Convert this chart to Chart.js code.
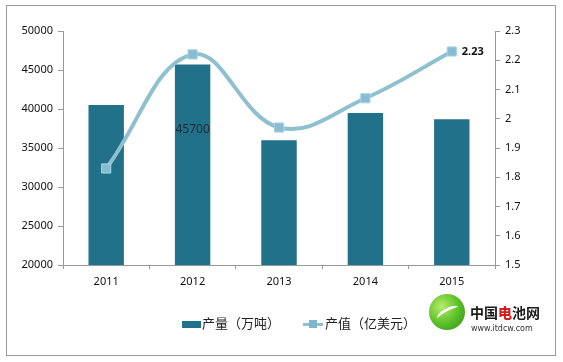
<!DOCTYPE html>
<html>
<head>
<meta charset="utf-8">
<script src="https://cdn.jsdelivr.net/npm/chart.js@4.4.0/dist/chart.umd.min.js"></script>
<style>
    body { margin: 0; background: #fff; }
    #wrap { position: relative; width: 563px; height: 362px; }
    #frame { position: absolute; left: 6px; top: 5px; width: 548px; height: 349px; border: 1px solid #9a9a9a; box-sizing: content-box; }
    #legend { position: absolute; top: 311px; left: 182px; font-family: "Noto Sans CJK SC", sans-serif; font-size: 13px; color: #222; }
    #legend span.item { display: inline-block; margin-right: 20px; vertical-align: middle; }
    .barkey { display: inline-block; width: 19px; height: 7px; background: #22718a; vertical-align: middle; margin-right: 1px; }
    .linekey { display: inline-block; position: relative; width: 20px; height: 10px; vertical-align: middle; margin-right: 2px; }
    .linekey:before { content: ""; position: absolute; left: 0; right: 0; top: 4px; height: 3px; background: #8fc0d0; }
    .linekey:after { content: ""; position: absolute; left: 6px; top: 1px; width: 8px; height: 8px; background: #7db7cc; }
    #logo { position: absolute; left: 429px; top: 294px; }
    #logo .ball { position: absolute; left: 0; top: 0; width: 36px; height: 36px; border-radius: 50%;
        background: radial-gradient(circle at 35% 35%, #b8ec6a 0%, #5cc22a 50%, #2f8d16 100%); }
    #logo .ball:after { content: ""; position: absolute; left: 7px; top: 14px; width: 24px; height: 7px; border-top: 3px solid #fff; border-radius: 50%; transform: rotate(-28deg); }
    #logo .cn { position: absolute; left: 41px; top: 8px; font-family: "Noto Sans CJK SC", sans-serif; font-weight: bold; font-size: 14px; color: #1a1a1a; white-space: nowrap; }
    #logo .cn b { color: #d62020; }
    #logo .en { position: absolute; left: 42px; top: 30px; font-family: "DejaVu Sans", sans-serif; font-size: 8px; color: #333; white-space: nowrap; }
</style>
</head>
<body>
<div id="wrap">
    <canvas id="myChart" width="563" height="362"></canvas>
    <div id="frame"></div>
    <div id="legend">
        <span class="item"><span class="barkey"></span>产量（万吨）</span>
        <span class="item"><span class="linekey"></span>产值（亿美元）</span>
    </div>
    <div id="logo">
        <div class="ball"></div>
        <div class="cn">中国<b>电</b>池网</div>
        <div class="en">www.itdcw.com</div>
    </div>
</div>
<script>
var years = ['2011', '2012', '2013', '2014', '2015'];
var output = [40500, 45700, 36000, 39500, 38700];   // 产量（万吨）
var value = [1.83, 2.22, 1.97, 2.07, 2.23];         // 产值（亿美元）

// labels written on the chart
var labelPlugin = {
    id: 'pointLabels',
    afterDatasetsDraw: function (chart) {
        var ctx = chart.ctx;
        ctx.save();
        var bar = chart.getDatasetMeta(0).data[1];
        ctx.fillStyle = '#1d2b33';
        ctx.font = '12px "Noto Sans", sans-serif';
        ctx.textAlign = 'center';
        ctx.textBaseline = 'middle';
        ctx.fillText(String(output[1]), bar.x, bar.y + 65);

        var pt = chart.getDatasetMeta(1).data[4];
        ctx.font = 'bold 11px "Noto Sans", sans-serif';
        ctx.fillStyle = '#111';
        ctx.textAlign = 'left';
        ctx.fillText(String(value[4]), pt.x + 10, pt.y);
        ctx.restore();
    }
};

var axisGrey = '#9a9a9a';
var tickFont = { family: '"Noto Sans", sans-serif', size: 11 };

new Chart(document.getElementById('myChart'), {
    type: 'bar',
    data: {
        labels: years,
        datasets: [{
            label: '产量（万吨）',
            data: output,
            backgroundColor: '#22718a',
            barPercentage: 0.41,
            categoryPercentage: 1,
            yAxisID: 'y',
            order: 2
        }, {
            type: 'line',
            label: '产值（亿美元）',
            data: value,
            borderColor: '#8fc0d0',
            borderWidth: 4,
            tension: 0.4,
            pointStyle: 'rect',
            pointRadius: 6.5,
            pointBackgroundColor: '#86bdd2',
            pointBorderColor: '#a9d3e2',
            pointBorderWidth: 1,
            yAxisID: 'y1',
            order: 1
        }]
    },
    options: {
        responsive: false,
        animation: false,
        layout: { padding: { left: 0, right: 0, top: 31, bottom: 67 } },
        plugins: {
            legend: { display: false },
            tooltip: { enabled: false }
        },
        scales: {
            x: {
                afterFit: function (s) { s.height = 30; },
                grid: { drawOnChartArea: false, tickLength: 4, color: axisGrey },
                border: { color: axisGrey },
                ticks: { color: '#111', font: tickFont, padding: 6 }
            },
            y: {
                position: 'left',
                min: 20000,
                max: 50000,
                afterFit: function (s) { s.width = 63; },
                grid: { drawOnChartArea: false, tickLength: 5, color: axisGrey },
                border: { color: axisGrey },
                ticks: {
                    stepSize: 5000, color: '#111', font: tickFont, padding: 5,
                    callback: function (v) { return String(v); }
                }
            },
            y1: {
                position: 'right',
                min: 1.5,
                max: 2.3,
                afterFit: function (s) { s.width = 68; },
                grid: { drawOnChartArea: false, tickLength: 5, color: axisGrey },
                border: { color: axisGrey },
                ticks: {
                    stepSize: 0.1, color: '#111', font: tickFont, padding: 5,
                    callback: function (v) { return String(+v.toFixed(1)); }
                }
            }
        }
    },
    plugins: [labelPlugin]
});
</script>
</body>
</html>
